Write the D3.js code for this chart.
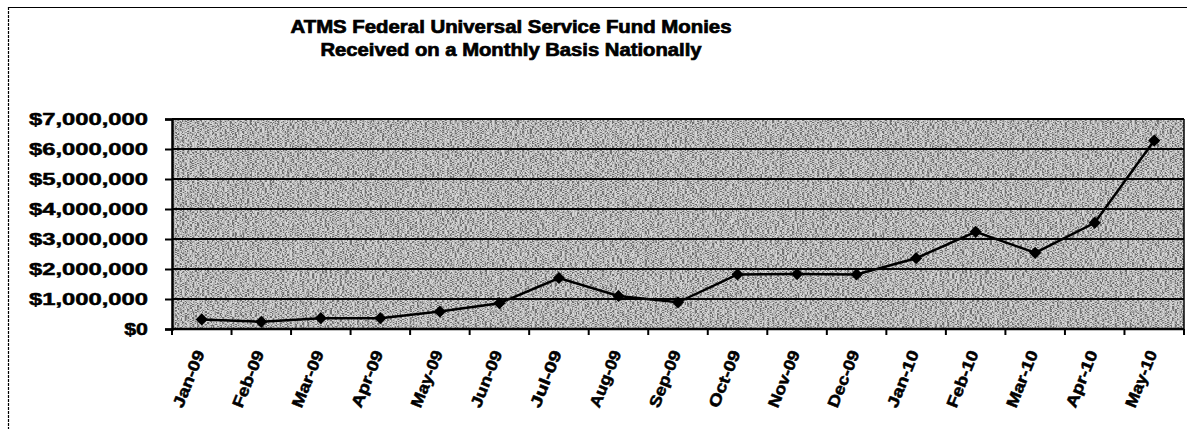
<!DOCTYPE html>
<html><head><meta charset="utf-8">
<script src="https://cdn.jsdelivr.net/npm/d3@7"></script>
<style>
html,body{margin:0;padding:0;background:#fff;}
text{font-family:"Liberation Sans",Arial,sans-serif;font-weight:bold;fill:#000;stroke:#000;stroke-width:0.5px;}
</style></head>
<body>
<svg id="chart" width="1187" height="429"></svg>
<script>
const titleLines = ["ATMS Federal Universal Service Fund Monies", "Received on a Monthly Basis Nationally"];
const months = ["Jan-09","Feb-09","Mar-09","Apr-09","May-09","Jun-09","Jul-09","Aug-09","Sep-09","Oct-09","Nov-09","Dec-09","Jan-10","Feb-10","Mar-10","Apr-10","May-10"];
const values = [320000, 240000, 360000, 360000, 580000, 860000, 1700000, 1100000, 890000, 1820000, 1830000, 1820000, 2360000, 3240000, 2540000, 3540000, 6280000];
const yTicks = [0, 1000000, 2000000, 3000000, 4000000, 5000000, 6000000, 7000000];

const svg = d3.select("#chart");
const M = {left:172, right:1184, top:119, bottom:329};

// noise filter imitating the scanned gray plot fill
const defs = svg.append("defs");
const f = defs.append("filter").attr("id","noise").attr("x",0).attr("y",0).attr("width","100%").attr("height","100%");
f.append("feTurbulence").attr("type","fractalNoise").attr("baseFrequency","0.4 1.0").attr("numOctaves",2).attr("seed",11).attr("result","t");
f.append("feColorMatrix").attr("in","t").attr("type","matrix")
  .attr("values","4 0 0 0 -1.5  4 0 0 0 -1.5  4 0 0 0 -1.5  0 0 0 0 1").attr("result","g");
const ct = f.append("feComponentTransfer").attr("in","g");
["feFuncR","feFuncG","feFuncB"].forEach(n=>ct.append(n).attr("type","discrete").attr("tableValues","0.1 0.3 0.6 1 1"));

// outer frame
svg.append("line").attr("x1",8).attr("x2",1187).attr("y1",7.5).attr("y2",7.5).attr("stroke","#000").attr("stroke-width",1.2);
svg.append("line").attr("x1",8.5).attr("x2",8.5).attr("y1",7).attr("y2",429).attr("stroke","#000").attr("stroke-width",1.2).attr("stroke-dasharray","3 1");

// title
svg.selectAll("text.title").data(titleLines).join("text").attr("class","title")
  .attr("x",511).attr("y",(d,i)=>33+i*23).attr("text-anchor","middle")
  .attr("font-size",18).style("stroke-width","0.7px")
  .attr("textLength",(d,i)=>[441,381][i]).attr("lengthAdjust","spacingAndGlyphs")
  .text(d=>d);

const x = d3.scaleBand().domain(months).range([M.left, M.right]).padding(0);
const y = d3.scaleLinear().domain([0,7000000]).range([M.bottom, M.top]);

// plot area
svg.append("rect").attr("x",M.left).attr("y",M.top).attr("width",M.right-M.left).attr("height",M.bottom-M.top).attr("fill","#959595");
svg.append("rect").attr("x",M.left).attr("y",M.top).attr("width",M.right-M.left).attr("height",M.bottom-M.top).attr("filter","url(#noise)").attr("opacity",0.6);

// gridlines
svg.append("g").selectAll("line").data(yTicks.slice(1)).join("line")
  .attr("x1",M.left).attr("x2",M.right).attr("y1",d=>y(d)).attr("y2",d=>y(d))
  .attr("stroke","#000").attr("stroke-width",2);
svg.append("line").attr("x1",M.right).attr("x2",M.right).attr("y1",M.top).attr("y2",M.bottom).attr("stroke","#000").attr("stroke-width",1.5);

// y axis
const yAxis = svg.append("g").attr("transform",`translate(${M.left},0)`)
  .call(d3.axisLeft(y).tickValues(yTicks).tickSize(7).tickPadding(0).tickFormat(d=>"$"+d3.format(",")(d)));
yAxis.select(".domain").attr("stroke","#000").attr("stroke-width",2.5);
yAxis.selectAll(".tick line").attr("stroke","#000").attr("stroke-width",2);
yAxis.selectAll(".tick text").attr("x",-24).attr("font-size",17).attr("font-family",null)
  .each(function(d){ const n=d3.format(",")(d).length+1; d3.select(this).attr("textLength", n*11.9).attr("lengthAdjust","spacingAndGlyphs"); });

// x axis with ticks between categories
const xAxisG = svg.append("g").attr("transform",`translate(0,${M.bottom})`);
xAxisG.append("line").attr("x1",M.left).attr("x2",M.right).attr("stroke","#000").attr("stroke-width",2.5);
const bounds = months.map(m=>x(m)).concat([M.right]);
xAxisG.selectAll("line.tk").data(bounds).join("line").attr("class","tk")
  .attr("x1",d=>d).attr("x2",d=>d).attr("y1",0).attr("y2",6).attr("stroke","#000").attr("stroke-width",2);
xAxisG.selectAll("text").data(months).join("text")
  .attr("transform",d=>`translate(${x(d)+x.bandwidth()/2-2},${22}) rotate(-68)`)
  .attr("text-anchor","end").attr("dy","0.35em").attr("font-size",16)
  .attr("textLength",d=>d.length*10).attr("lengthAdjust","spacingAndGlyphs")
  .text(d=>d);

// line + markers
const cx = d=>x(d)+x.bandwidth()/2;
svg.append("path").datum(months)
  .attr("d", d3.line().x(cx).y((d,i)=>y(values[i])))
  .attr("fill","none").attr("stroke","#000").attr("stroke-width",2.5);
svg.append("g").selectAll("path").data(months).join("path")
  .attr("transform",(d,i)=>`translate(${cx(d)},${y(values[i])})`)
  .attr("d", d3.symbol(d3.symbolDiamond2, 95)())
  .attr("fill","#000");
</script>
</body></html>
